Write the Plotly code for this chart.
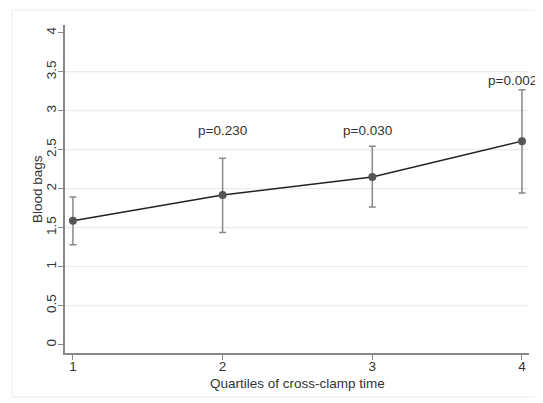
import plotly.graph_objects as go

# Data
quartiles = [1, 2, 3, 4]
means = [1.59, 1.92, 2.15, 2.61]
upper = [1.895, 2.39, 2.545, 3.27]
lower = [1.28, 1.44, 1.765, 1.945]

p_labels = ["p=0.230", "p=0.030", "p=0.002"]
p_x = [2.0, 2.97, 3.94]
p_y = [2.75, 2.75, 3.385]

y_ticks = [0, 0.5, 1, 1.5, 2, 2.5, 3, 3.5, 4]
y_ticktext = ["0", "0.5", "1", "1.5", "2", "2.5", "3", "3.5", "4"]
x_ticks = [1, 2, 3, 4]

x_title = "Quartiles of cross-clamp time"
y_title = "Blood bags"

FONT = "Liberation Sans, Arial, sans-serif"
TXT = "#333333"
FS = 13.5

err_plus = [u - m for u, m in zip(upper, means)]
err_minus = [m - l for m, l in zip(means, lower)]

fig = go.Figure()
fig.add_trace(go.Scatter(
    x=quartiles, y=means, mode="lines+markers",
    line=dict(color="#222222", width=1.4),
    marker=dict(color="#555555", size=8),
    error_y=dict(type="data", symmetric=False, array=err_plus, arrayminus=err_minus,
                 color="#888888", thickness=1.5, width=3.5),
    showlegend=False, hoverinfo="skip",
))

shapes = []
for t in y_ticks[1:-1]:
    shapes.append(dict(type="line", xref="paper", yref="y", x0=0, x1=1, y0=t, y1=t,
                       line=dict(color="#e6e6e6", width=1), layer="below"))
# outer light frame
shapes.append(dict(type="rect", xref="paper", yref="paper", x0=-0.114, x1=1.015,
                   y0=-0.134, y1=1.0457, line=dict(color="#ececec", width=1), layer="below"))

annotations = [dict(x=x, y=y, text=t, showarrow=False, xref="x", yref="y",
                    font=dict(family=FONT, size=FS, color=TXT))
               for x, y, t in zip(p_x, p_y, p_labels)]
annotations.append(dict(x=0.5, y=-0.0915, xref="paper", yref="paper", text=x_title,
                        showarrow=False, xanchor="center", yanchor="middle",
                        font=dict(family=FONT, size=FS, color=TXT)))
annotations.append(dict(x=-0.0603, y=0.5, xref="paper", yref="paper", text=y_title,
                        showarrow=False, textangle=-90, xanchor="center", yanchor="middle",
                        font=dict(family=FONT, size=FS, color=TXT)))

fig.update_layout(
    width=535, height=395,
    margin=dict(l=57, r=14, t=17, b=50),
    paper_bgcolor="white", plot_bgcolor="white",
    font=dict(family=FONT, size=FS, color=TXT),
    shapes=shapes, annotations=annotations,
    xaxis=dict(range=[0.947, 4.047], tickvals=x_ticks, ticktext=[str(v) for v in x_ticks],
               showgrid=False, zeroline=False, showline=True, linecolor="#888888", linewidth=1.5,
               ticks="outside", ticklen=5, tickcolor="#888888", tickwidth=1,
               ticklabelstandoff=-5,
               tickfont=dict(family=FONT, size=13.5, color=TXT), automargin=False),
    yaxis=dict(range=[-0.107, 4.1], tickvals=y_ticks, ticktext=y_ticktext, tickangle=-90,
               showgrid=False, zeroline=False, showline=True, linecolor="#888888", linewidth=1.5,
               ticks="outside", ticklen=5, tickcolor="#888888", tickwidth=1,
               ticklabelstandoff=-3,
               tickfont=dict(family=FONT, size=13.5, color=TXT), automargin=False),
)

fig.write_html("out.html")
